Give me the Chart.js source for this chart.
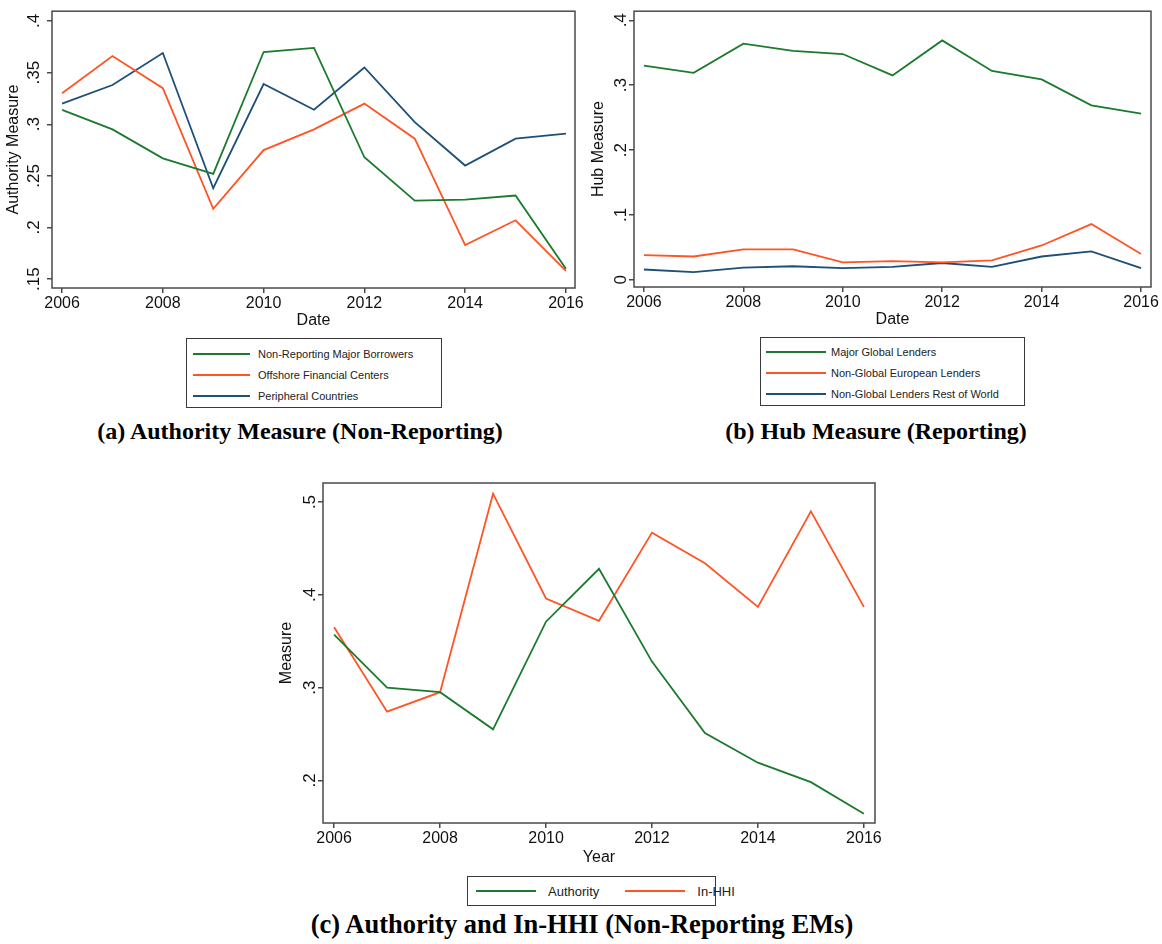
<!DOCTYPE html>
<html>
<head>
<meta charset="utf-8">
<script src="https://cdn.jsdelivr.net/npm/chart.js@4"></script>
<style>
  body { margin: 0; background: #fff; width: 1162px; height: 944px; position: relative; overflow: hidden; font-family: "Liberation Sans", Arial, sans-serif; }
  canvas { position: absolute; }
  .legend { position: absolute; border: 1px solid #3a3a3a; box-sizing: border-box; background: #fff; }
  .row { display: flex; align-items: center; height: 21px; font-size: 11px; color: #222; white-space: nowrap; }
  .sw { height: 2px; flex: none; }
  .caption { position: absolute; font-family: "Liberation Serif", "Times New Roman", serif; font-weight: bold; font-size: 24px; color: #000; text-align: center; white-space: nowrap; }
</style>
</head>
<body>
<canvas id="chartA" width="585" height="335" style="left:0;top:0"></canvas>
<canvas id="chartB" width="577" height="335" style="left:585px;top:0"></canvas>
<canvas id="chartC" width="620" height="400" style="left:270px;top:470px"></canvas>

<div class="legend" id="legA" style="left:186px;top:338px;width:256px;height:70px;padding-top:4px"></div>
<div class="legend" id="legB" style="left:760px;top:337px;width:265px;height:69px;padding-top:3px"></div>
<div class="legend" id="legC" style="left:467px;top:876px;width:249px;height:30px;display:flex;align-items:center;white-space:nowrap"></div>

<div class="caption" style="left:0;width:600px;top:418px">(a) Authority Measure (Non-Reporting)</div>
<div class="caption" style="left:576px;width:600px;top:418px">(b) Hub Measure (Reporting)</div>
<div class="caption" style="left:282px;width:600px;top:909px;font-size:26.5px">(c) Authority and In-HHI (Non-Reporting EMs)</div>

<script>
// data
const years = [2006, 2007, 2008, 2009, 2010, 2011, 2012, 2013, 2014, 2015, 2016];
const xTicks = [2006, 2008, 2010, 2012, 2014, 2016];

// (a) authority measure, non-reporting
const nonReportingMajor = [0.314, 0.295, 0.267, 0.252, 0.370, 0.374, 0.268, 0.226, 0.227, 0.231, 0.160];
const offshoreCenters   = [0.330, 0.366, 0.335, 0.218, 0.275, 0.295, 0.320, 0.286, 0.183, 0.207, 0.158];
const peripheral        = [0.320, 0.338, 0.369, 0.238, 0.339, 0.314, 0.355, 0.302, 0.260, 0.286, 0.291];
const yTicksA = [0.15, 0.2, 0.25, 0.3, 0.35, 0.4];

// (b) hub measure, reporting
const majorGlobal   = [0.330, 0.319, 0.364, 0.353, 0.348, 0.315, 0.369, 0.322, 0.309, 0.269, 0.256];
const nonGlobalEuro = [0.038, 0.036, 0.047, 0.047, 0.027, 0.029, 0.027, 0.030, 0.053, 0.086, 0.040];
const nonGlobalRest = [0.016, 0.012, 0.019, 0.021, 0.018, 0.020, 0.026, 0.020, 0.036, 0.044, 0.018];
const yTicksB = [0, 0.1, 0.2, 0.3, 0.4];

// (c) authority and in-HHI
const authority = [0.357, 0.300, 0.295, 0.255, 0.371, 0.428, 0.328, 0.251, 0.219, 0.198, 0.164];
const inHHI     = [0.365, 0.274, 0.295, 0.509, 0.396, 0.372, 0.467, 0.434, 0.387, 0.490, 0.387];
const yTicksC = [0.2, 0.3, 0.4, 0.5];

const GREEN = '#1b7a2e', ORANGE = '#ff5424', NAVY = '#1d4f78';
const FONT = '"Liberation Sans", Arial, sans-serif';
const AXIS = '#4a4a4a';

const framePlugin = {
  id: 'frame',
  afterDraw(chart) {
    const { ctx, chartArea: a } = chart;
    ctx.save();
    ctx.strokeStyle = AXIS;
    ctx.lineWidth = 1.5;
    ctx.strokeRect(a.left, a.top, a.right - a.left, a.bottom - a.top);
    ctx.restore();
  }
};

function fmt(v) {
  if (v === 0) return '0';
  return String(Math.round(v * 100) / 100).replace(/^0\./, '.');
}

function pts(vals) {
  return years.map((yr, i) => ({ x: yr, y: vals[i] }));
}

function makeChart(id, p) {
  new Chart(document.getElementById(id), {
    type: 'line',
    data: {
      datasets: p.series.map(s => ({
        label: s.name, data: pts(s.data), borderColor: s.color,
        borderWidth: 1.8, pointRadius: 0, tension: 0, fill: false
      }))
    },
    options: {
      responsive: false, animation: false, devicePixelRatio: 1,
      layout: { padding: p.pad },
      plugins: { legend: { display: false }, tooltip: { enabled: false } },
      scales: {
        x: {
          type: 'linear', min: p.xmin, max: p.xmax,
          afterBuildTicks: s => { s.ticks = xTicks.map(v => ({ value: v })); },
          afterFit: s => { s.height = p.xh; },
          grid: { drawOnChartArea: false, drawTicks: true, tickLength: 5, color: AXIS, lineWidth: 1.5 },
          border: { display: false },
          ticks: { font: { family: FONT, size: 16 }, color: '#111', padding: 1, maxRotation: 0, autoSkip: false, callback: v => String(v) },
          title: { display: true, text: p.xtitle, font: { family: FONT, size: 16 }, color: '#111', padding: { top: 0, bottom: p.xtp } }
        },
        y: {
          min: p.ymin, max: p.ymax,
          afterBuildTicks: s => { s.ticks = p.yticks.map(v => ({ value: v })); },
          afterFit: s => { s.width = p.yw; },
          grid: { drawOnChartArea: false, drawTicks: true, tickLength: 5, color: AXIS, lineWidth: 1.5 },
          border: { display: false },
          ticks: { font: { family: FONT, size: 17 }, color: '#111', padding: 1, minRotation: 90, maxRotation: 90, crossAlign: 'center', autoSkip: false, callback: fmt },
          title: { display: true, text: p.ytitle, font: { family: FONT, size: 16 }, color: '#111', padding: { top: p.ytp, bottom: 0 } }
        }
      }
    },
    plugins: [framePlugin]
  });
}

const seriesA = [
  { name: 'Non-Reporting Major Borrowers', data: nonReportingMajor, color: GREEN },
  { name: 'Offshore Financial Centers', data: offshoreCenters, color: ORANGE },
  { name: 'Peripheral Countries', data: peripheral, color: NAVY }
];
const seriesB = [
  { name: 'Major Global Lenders', data: majorGlobal, color: GREEN },
  { name: 'Non-Global European Lenders', data: nonGlobalEuro, color: ORANGE },
  { name: 'Non-Global Lenders Rest of World', data: nonGlobalRest, color: NAVY }
];
const seriesC = [
  { name: 'Authority', data: authority, color: GREEN },
  { name: 'In-HHI', data: inHHI, color: ORANGE }
];

makeChart('chartA', {
  series: seriesA, pad: { left: 0, top: 7, right: 10, bottom: 0 },
  xmin: 2005.8, xmax: 2016.18, xh: 47, xtitle: 'Date', xtp: 5,
  ymin: 0.1414, ymax: 0.4095, yticks: yTicksA, yw: 52, ytitle: 'Authority Measure', ytp: 4
});
makeChart('chartB', {
  series: seriesB, pad: { left: 0, top: 11, right: 11, bottom: 0 },
  xmin: 2005.8, xmax: 2016.2, xh: 48, xtitle: 'Date', xtp: 6,
  ymin: -0.011, ymax: 0.414, yticks: yTicksB, yw: 49, ytitle: 'Hub Measure', ytp: 4
});
makeChart('chartC', {
  series: seriesC, pad: { left: 0, top: 13, right: 15, bottom: 0 },
  xmin: 2005.79, xmax: 2016.21, xh: 47, xtitle: 'Year', xtp: 3,
  ymin: 0.154, ymax: 0.5205, yticks: yTicksC, yw: 53, ytitle: 'Measure', ytp: 7
});

// legends
function stackLegend(id, series, swLeft, swWidth, gap) {
  const box = document.getElementById(id);
  series.forEach(s => {
    const row = document.createElement('div');
    row.className = 'row';
    row.innerHTML = '<span class="sw" style="margin-left:' + swLeft + 'px;width:' + swWidth + 'px;background:' + s.color + '"></span>' +
      '<span style="margin-left:' + gap + 'px">' + s.name + '</span>';
    box.appendChild(row);
  });
}
stackLegend('legA', seriesA, 6, 57, 8);
stackLegend('legB', seriesB, 5, 60, 5);

const legC = document.getElementById('legC');
seriesC.forEach((s, i) => {
  const sw = document.createElement('span');
  sw.className = 'sw';
  sw.style.cssText = 'margin-left:' + (i === 0 ? 8 : 26) + 'px;width:60px;background:' + s.color;
  const t = document.createElement('span');
  t.style.cssText = 'margin-left:12px;font-size:13px;color:#222;white-space:nowrap;flex:none';
  t.textContent = s.name;
  legC.appendChild(sw);
  legC.appendChild(t);
});
</script>
</body>
</html>
